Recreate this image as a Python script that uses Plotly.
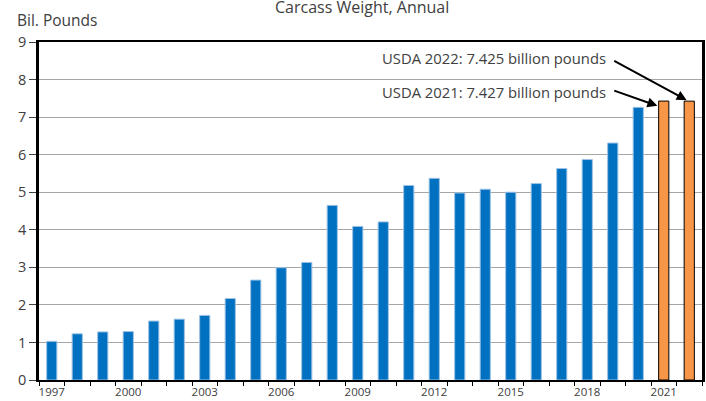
import plotly.graph_objects as go

years = list(range(1997, 2023))
values = [1.03, 1.23, 1.28, 1.29, 1.57, 1.62, 1.72, 2.17, 2.66, 2.99, 3.13,
          4.65, 4.09, 4.21, 5.18, 5.37, 4.98, 5.08, 5.00, 5.23, 5.63, 5.87,
          6.31, 7.26, 7.427, 7.425]
forecast_years = [2021, 2022]
tick_years = list(range(1997, 2022, 3))
tick_labels = [str(y) for y in tick_years]

hist_x = [y for y in years if y not in forecast_years]
hist_y = [v for y, v in zip(years, values) if y not in forecast_years]
fc_x = [y for y in years if y in forecast_years]
fc_y = [v for y, v in zip(years, values) if y in forecast_years]

font = "Open Sans"
tc = "#404040"

fig = go.Figure()
fig.add_trace(go.Bar(x=hist_x, y=hist_y, width=0.4,
                     marker=dict(color="#0070C0", line=dict(color="#9DC3E6", width=1))))
fig.add_trace(go.Bar(x=fc_x, y=fc_y, width=0.4,
                     marker=dict(color="#F79646", line=dict(color="black", width=1))))

fig.update_layout(
    width=706, height=401,
    margin=dict(l=39, r=4, t=42, b=21),
    plot_bgcolor="white", paper_bgcolor="white",
    showlegend=False,
    font=dict(family=font, color=tc),
    xaxis=dict(range=[1996.5, 2022.5], tickvals=tick_years, ticktext=tick_labels,
               ticks="", tickfont=dict(size=11.5, color=tc), automargin=False,
               showline=True, linecolor="black", linewidth=2, mirror=True,
               showgrid=False, zeroline=False,
               minor=dict(tickmode="array", tickvals=[1996.5 + i for i in range(27)],
                          ticks="outside", ticklen=4, tickcolor="black", tickwidth=1,
                          showgrid=False)),
    yaxis=dict(range=[0, 9], dtick=1, ticks="outside", ticklen=7, tickcolor="#404040",
               tickfont=dict(size=14.5, color=tc), automargin=False,
               showline=True, linecolor="black", linewidth=2.5, mirror=True,
               showgrid=True, gridcolor="#A6A6A6", gridwidth=1, zeroline=False),
)

annotations = [
    dict(text="Carcass Weight, Annual", xref="paper", yref="paper", x=0.487, y=1.105,
         xanchor="center", yanchor="middle", showarrow=False,
         font=dict(size=16, color=tc)),
    dict(text="Bil. Pounds", xref="paper", yref="paper", x=-0.036, y=1.065,
         xanchor="left", yanchor="middle", showarrow=False,
         font=dict(size=15.5, color=tc)),
    dict(text="USDA 2022: 7.425 billion pounds", xref="x", yref="y", x=2018.8, y=8.58,
         xanchor="right", yanchor="middle", showarrow=False, font=dict(size=14.8, color=tc)),
    dict(text="USDA 2021: 7.427 billion pounds", xref="x", yref="y", x=2018.8, y=7.68,
         xanchor="right", yanchor="middle", showarrow=False, font=dict(size=14.8, color=tc)),
    dict(text="", xref="x", yref="y", x=2021.9, y=7.45, axref="x", ayref="y",
         ax=2019.0, ay=8.52, showarrow=True, arrowhead=2, arrowsize=1, arrowwidth=2,
         arrowcolor="black"),
    dict(text="", xref="x", yref="y", x=2020.75, y=7.3, axref="x", ayref="y",
         ax=2019.0, ay=7.72, showarrow=True, arrowhead=2, arrowsize=1, arrowwidth=2,
         arrowcolor="black"),
]
fig.update_layout(annotations=annotations)

fig.write_html("out.html", config={"displayModeBar": False},
               post_script="document.body.style.margin='0';document.body.style.overflow='hidden';")
